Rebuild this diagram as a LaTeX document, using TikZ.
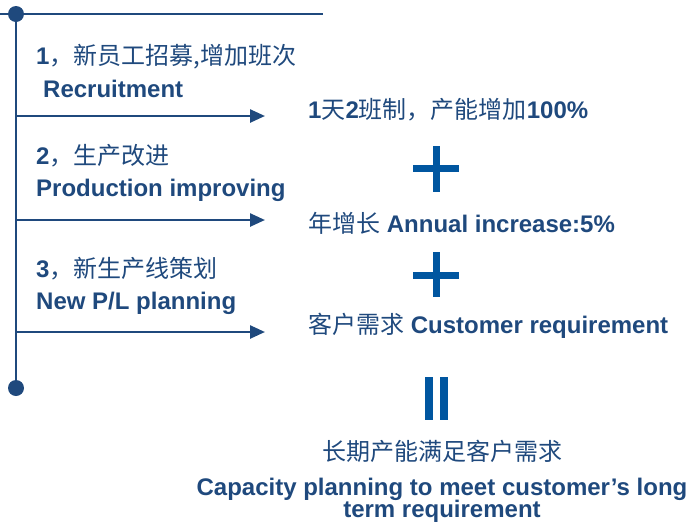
\documentclass[tikz,border=0pt]{standalone}
\usepackage{fontspec}
\setmainfont{Liberation Sans}
\newfontfamily\cjkfont{Noto Sans CJK SC}
\newcommand\zhtext[1]{{\cjkfont\mdseries #1}}
\newcommand\tightlines{\lineskiplimit=-30pt\relax}
\usetikzlibrary{arrows.meta}
\definecolor{navy}{RGB}{31,73,125}
\definecolor{plusblue}{RGB}{0,86,160}
\begin{document}
\begin{tikzpicture}[x=1pt,y=-1pt,
  ln/.style={draw=navy,line width=2.5pt},
  arr/.style={ln,-{Triangle[length=15pt,width=13pt]}},
  dot/.style={circle,fill=navy,inner sep=0,minimum size=16pt},
  txt/.style={font=\fontsize{24}{24}\selectfont\bfseries,text=navy,inner sep=0,anchor=base west},
  ctxt/.style={txt,anchor=base},
  opbar/.style={fill=plusblue}]
\useasboundingbox (0,0) rectangle (690,523);
% timeline
\node[dot] (d1) at (16,14) {};
\node[dot] (d2) at (16,388) {};
\coordinate (tl) at (0,14);
\coordinate (tr) at (323,14);
\draw[ln] (tl) -- (tr);
\draw[ln] (d1.center) -- (d2.center);
\coordinate (s1) at (16,116); \coordinate (e1) at (265,116);
\coordinate (s2) at (16,220); \coordinate (e2) at (265,220);
\coordinate (s3) at (16,332); \coordinate (e3) at (265,332);
\draw[arr] (s1) -- (e1);
\draw[arr] (s2) -- (e2);
\draw[arr] (s3) -- (e3);
% left texts
\node[txt] (a1) at (36,64) {1\zhtext{，新员工招募}\zhtext{,增加班次}};
\node[txt] (a2) at (43,97) {Recruitment};
\node[txt] (b1) at (36,164) {2\zhtext{，生产改进}};
\node[txt] (b2) at (36,196) {Production improving};
\node[txt] (c1) at (36,277) {3\zhtext{，新生产线策划}};
\node[txt] (c2) at (36,309) {New P/L planning};
% right texts
\node[txt] (r1) at (308,118) {1\zhtext{天}2\zhtext{班制，产能增加}100\%};
\node[txt] (r2) at (308,232) {\zhtext{年增长} Annual increase:5\%};
\node[txt] (r3) at (308,333) {\zhtext{客户需求} Customer requirement};
% plus signs
\fill[opbar] (413,165) rectangle (459,172);
\fill[opbar] (432.5,146) rectangle (439.5,192);
\fill[opbar] (413,272) rectangle (459,279);
\fill[opbar] (432.5,252) rectangle (439.5,297);
% equals (vertical bars)
\fill[opbar] (425,377) rectangle (433,420);
\fill[opbar] (439.5,377) rectangle (447.5,420);
% result
\node[ctxt] (z1) at (442,460) {\zhtext{长期产能满足客户需求}};
\node[txt,anchor=north,align=center,
  font=\fontsize{24}{22}\selectfont\bfseries\tightlines]
  (z2) at (442,478) {Capacity planning to meet customer’s long\\term requirement};
\end{tikzpicture}
\end{document}
